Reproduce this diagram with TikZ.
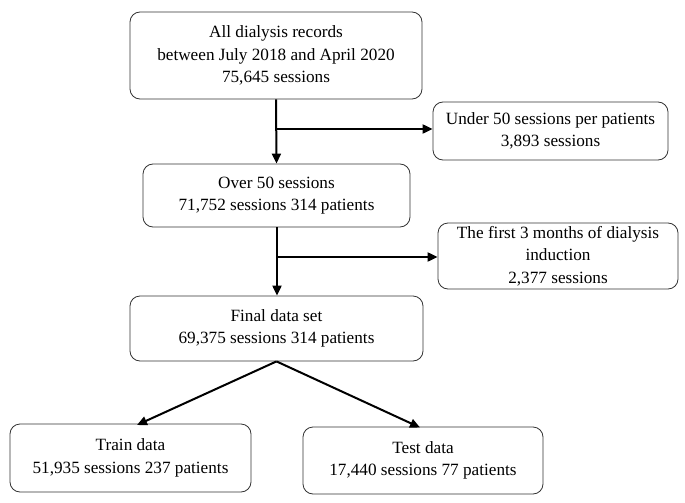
\documentclass[tikz,border=0pt]{standalone}
\usepackage{fontspec}
\setmainfont{Liberation Serif}
\usetikzlibrary{arrows.meta}
\begin{document}
\begin{tikzpicture}[x=1pt,y=-1pt,
  box/.style={draw=black!80, line width=0.8pt, rounded corners=10pt, align=center,
    inner sep=0pt, font=\fontsize{17.2}{22.5}\selectfont},
  arr/.style={line width=2pt, -{Triangle[length=10pt,width=9pt]}},
  ln/.style={line width=2pt}]
\useasboundingbox (0,0) rectangle (685,503);
\node[box, minimum width=292pt, minimum height=87pt] (all) at (276,55.5)
  {All dialysis records\\between July 2018 and April 2020\\75,645 sessions};
\node[box, minimum width=235pt, minimum height=58pt] (under) at (550.5,131)
  {Under 50 sessions per patients\\3,893 sessions};
\node[box, minimum width=267pt, minimum height=63pt] (over) at (276.5,195.5)
  {Over 50 sessions\\71,752 sessions 314 patients};
\node[box, minimum width=240pt, minimum height=66pt] (first) at (558,256)
  {The first 3 months of dialysis\\induction\\2,377 sessions};
\node[box, minimum width=293pt, minimum height=65pt] (final) at (276.5,328.5)
  {Final data set\\69,375 sessions 314 patients};
\node[box, minimum width=241pt, minimum height=68pt] (train) at (130.5,458)
  {Train data\\51,935 sessions 237 patients};
\node[box, minimum width=240pt, minimum height=67pt] (test) at (423,460.5)
  {Test data\\17,440 sessions 77 patients};
\coordinate (b1) at (276,129);
\coordinate (b2) at (277,257);
\draw[arr] (all.south) -- (over.north);
\draw[arr] (b1) -- (under.west |- b1);
\draw[arr] (over.south -| b2) -- (final.north -| b2);
\draw[arr] (b2) -- (first.west |- b2);
\draw[arr] (final.south) -- (137,425);
\draw[arr] (final.south) -- (420,427.5);
\end{tikzpicture}
\end{document}
